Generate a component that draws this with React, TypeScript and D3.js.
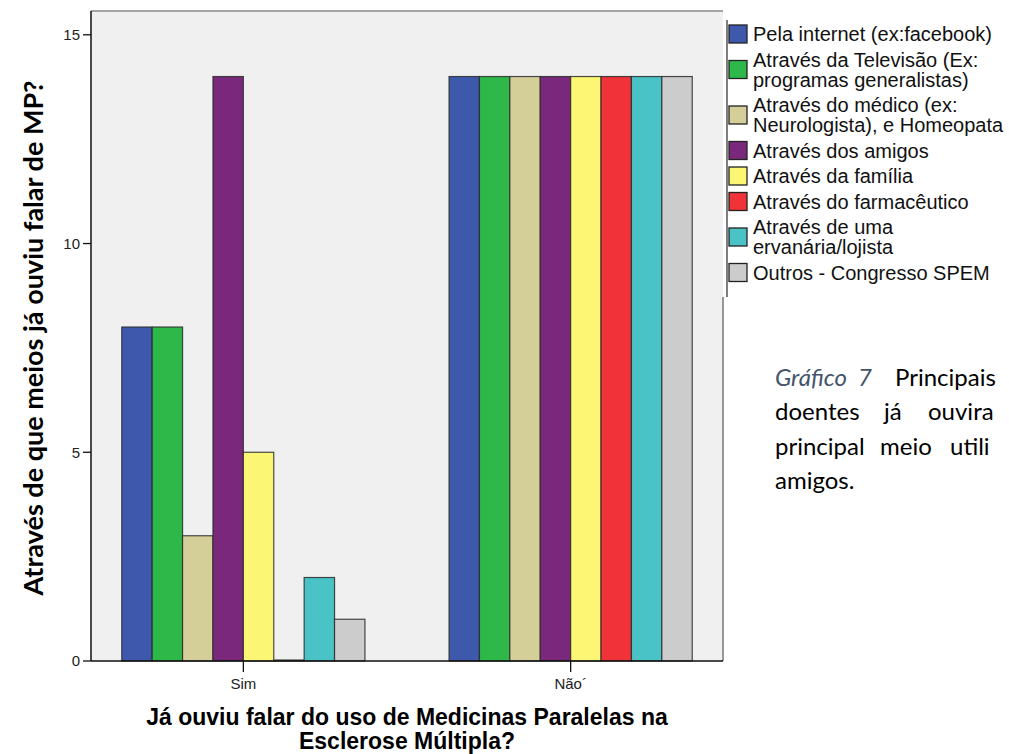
import React from "react";
import * as d3 from "d3";

const categories = ["Sim", "Não´"];
const seriesNames = [
  ["Pela internet (ex:facebook)"],
  ["Através da Televisão (Ex:", "programas generalistas)"],
  ["Através do médico (ex:", "Neurologista), e Homeopata"],
  ["Através dos amigos"],
  ["Através da família"],
  ["Através do farmacêutico"],
  ["Através de uma", "ervanária/lojista"],
  ["Outros - Congresso SPEM"],
];
const seriesColors = ["#3e58ac", "#2fb84a", "#d4cf98", "#7a287b", "#fbf774", "#ef3339", "#49c3c6", "#cccccc"];
const simValues = [8, 8, 3, 14, 5, 0, 2, 1];
const naoValues = [14, 14, 14, 14, 14, 14, 14, 14];
const yTicks = [0, 5, 10, 15];
const yTitle = "Através de que meios já ouviu falar de MP?";
const xTitle = ["Já ouviu falar do uso de Medicinas Paralelas na", "Esclerose Múltipla?"];

const W = 1009;
const H = 754;
const plot = { left: 91, right: 723, top: 11, bottom: 661 };

export default function App() {
  const x0 = d3
    .scaleBand<string>()
    .domain(categories)
    .range([plot.left, plot.right])
    .paddingInner(0.257)
    .paddingOuter(0.094);
  const x1 = d3
    .scaleBand<number>()
    .domain(d3.range(seriesNames.length))
    .range([0, x0.bandwidth()]);
  const y = d3.scaleLinear().domain([0, 15.57]).range([plot.bottom, plot.top]);

  const data = [simValues, naoValues];

  // legend layout
  const legendX = 728;
  let cursor = 34;
  const legendItems = seriesNames.map((lines, i) => {
    const first = cursor;
    const last = first + (lines.length - 1) * 20;
    cursor = last + 25.5;
    return { lines, color: seriesColors[i], first, center: (first + last) / 2 };
  });

  const sans = "'Liberation Sans', Arial, sans-serif";
  const cal = "Lato, 'Open Sans', sans-serif";

  return (
    <svg
      width={W}
      height={H}
      style={{ position: "absolute", left: 0, top: 0, background: "#fff", overflow: "hidden" }}
    >
      <rect x={plot.left} y={plot.top} width={plot.right - plot.left} height={plot.bottom - plot.top} fill="#f0f0f0" />
      <line x1={plot.left} x2={plot.right} y1={plot.top} y2={plot.top} stroke="#8a8a8a" strokeWidth={1.5} />
      <line x1={plot.right} x2={plot.right} y1={297} y2={plot.bottom} stroke="#777" strokeWidth={1.5} />

      {/* bars */}
      {categories.map((c, ci) => (
        <g key={c} transform={`translate(${x0(c)},0)`}>
          {data[ci].map((v, si) =>
            v === 0 ? (
              <line
                key={si}
                x1={x1(si)}
                x2={(x1(si) as number) + x1.bandwidth()}
                y1={y(0) - 0.5}
                y2={y(0) - 0.5}
                stroke="#2a2a2a"
                strokeWidth={2}
              />
            ) : (
              <rect
                key={si}
                x={x1(si)}
                y={y(v)}
                width={x1.bandwidth()}
                height={y(0) - y(v)}
                fill={seriesColors[si]}
                stroke="#2a2a2a"
                strokeOpacity={0.85}
                strokeWidth={1.2}
              />
            )
          )}
        </g>
      ))}

      {/* y axis */}
      <line x1={plot.left} x2={plot.left} y1={plot.top} y2={plot.bottom} stroke="#111" strokeWidth={1.5} />
      {yTicks.map((t) => (
        <g key={t}>
          <line x1={plot.left - 8} x2={plot.left} y1={y(t)} y2={y(t)} stroke="#111" strokeWidth={1.3} />
          <text x={plot.left - 11} y={y(t)} dy="0.35em" textAnchor="end" fontFamily={sans} fontSize={15} fill="#222">
            {t}
          </text>
        </g>
      ))}

      {/* x axis */}
      <line x1={plot.left} x2={plot.right} y1={plot.bottom} y2={plot.bottom} stroke="#111" strokeWidth={1.5} />
      {categories.map((c) => {
        const cx = (x0(c) as number) + x0.bandwidth() / 2;
        return (
          <g key={c}>
            <line x1={cx} x2={cx} y1={plot.bottom} y2={plot.bottom + 11} stroke="#111" strokeWidth={1.3} />
            <text x={cx} y={689} textAnchor="middle" fontFamily={sans} fontSize={15} fill="#222">
              {c}
            </text>
          </g>
        );
      })}

      {/* axis titles */}
      {xTitle.map((t, i) => (
        <text
          key={i}
          x={(plot.left + plot.right) / 2}
          y={725 + i * 24}
          textAnchor="middle"
          fontFamily={sans}
          fontWeight="bold"
          fontSize={23}
          fill="#000"
        >
          {t}
        </text>
      ))}
      <text
        transform={`translate(43,${(plot.top + plot.bottom) / 2 + 2}) rotate(-90)`}
        textAnchor="middle"
        fontFamily={cal}
        fontWeight="bold"
        fontSize={27}
        fill="#000"
      >
        {yTitle}
      </text>

      {/* legend */}
      <line x1={727} x2={727} y1={20} y2={297} stroke="#555" strokeWidth={1.5} />
      {legendItems.map((it, i) => (
        <g key={i}>
          <rect
            x={legendX + 1}
            y={it.center - 9}
            width={18}
            height={18}
            fill={it.color}
            stroke="#222"
            strokeWidth={1.3}
          />
          {it.lines.map((ln, li) => (
            <text
              key={li}
              x={753}
              y={it.first + li * 20}
              dy="0.35em"
              fontFamily={sans}
              fontSize={20}
              fill="#111"
            >
              {ln}
            </text>
          ))}
        </g>
      ))}

      {/* caption from the document, cut by the page edge */}
      <g fontFamily={cal} fontSize={24} fill="#000">
        <text y={386}>
          <tspan x={775} fill="#44546a" fontStyle="italic">Gráfico</tspan>
          <tspan x={858} fill="#44546a" fontStyle="italic">7</tspan>
          <tspan x={895}>Principais</tspan>
        </text>
        <text y={420}>
          <tspan x={775}>doentes</tspan>
          <tspan x={884}>já</tspan>
          <tspan x={928}>ouvira</tspan>
        </text>
        <text y={455}>
          <tspan x={775}>principal</tspan>
          <tspan x={880}>meio</tspan>
          <tspan x={950}>utili</tspan>
        </text>
        <text y={489}>
          <tspan x={775}>amigos.</tspan>
        </text>
      </g>
    </svg>
  );
}
